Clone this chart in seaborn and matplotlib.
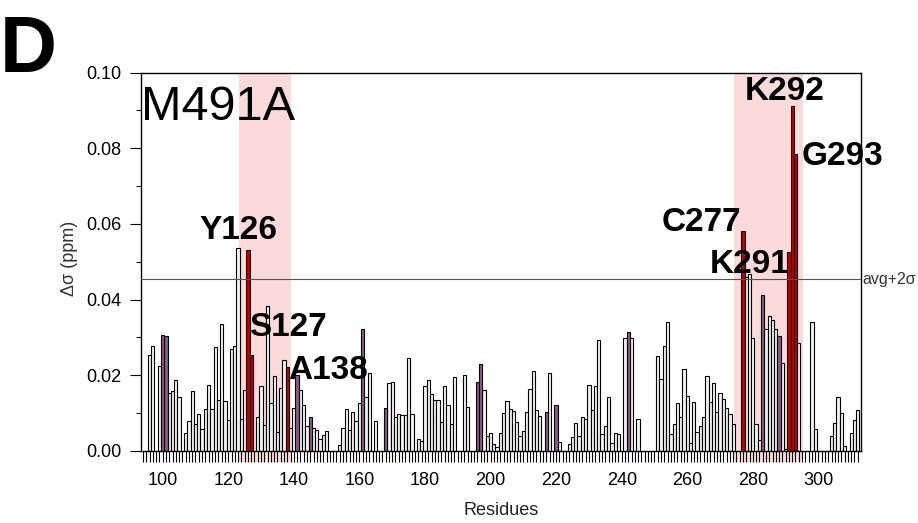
import numpy as np
import pandas as pd
import matplotlib
matplotlib.use("Agg")
import matplotlib.pyplot as plt
import matplotlib.transforms as mtransforms
from matplotlib.ticker import MultipleLocator
import seaborn as sns

nan = np.nan

# ---------------- data ----------------
residues = list(range(96, 313))
delta_sigma = [
    0.0253, 0.0277, nan, 0.0225, 0.0307, 0.0303, 0.0154, 0.0158, 0.0188, 0.0143,   # 96-105
    nan, 0.0046, 0.0079, 0.0158, 0.0070, 0.0096, 0.0057, 0.0111, 0.0175, 0.0110,    # 106-115
    0.0275, 0.0135, 0.0336, 0.0132, 0.0080, 0.0270, 0.0277, 0.0537, 0.0085, 0.0160, # 116-125
    0.0530, 0.0254, nan, 0.0090, 0.0171, 0.0068, 0.0383, 0.0125, 0.0197, 0.0050,    # 126-135
    0.0165, 0.0240, 0.0222, 0.0059, 0.0114, 0.0200, 0.0160, 0.0120, 0.0066, 0.0090, # 136-145
    0.0061, 0.0056, 0.0030, 0.0041, 0.0053, nan, nan, nan, 0.0015, 0.0059,          # 146-155
    0.0110, 0.0056, 0.0103, 0.0078, 0.0125, 0.0323, 0.0141, 0.0206, nan, 0.0079,    # 156-165
    nan, nan, 0.0112, 0.0180, 0.0182, 0.0090, 0.0097, 0.0095, 0.0094, 0.0244,       # 166-175
    0.0098, nan, 0.0031, 0.0026, 0.0171, 0.0188, 0.0151, 0.0135, 0.0134, 0.0075,    # 176-185
    0.0172, 0.0121, 0.0072, 0.0195, nan, nan, 0.0199, 0.0115, nan, nan,             # 186-195
    0.0182, 0.0229, 0.0161, 0.0040, 0.0048, 0.0019, 0.0011, 0.0048, 0.0100, 0.0132, # 196-205
    0.0110, 0.0106, 0.0075, 0.0039, 0.0053, 0.0103, 0.0162, 0.0211, 0.0107, 0.0092, # 206-215
    nan, 0.0103, 0.0206, nan, 0.0121, 0.0022, nan, nan, 0.0019, 0.0037,             # 216-225
    0.0074, 0.0040, 0.0088, 0.0085, 0.0175, 0.0107, 0.0171, 0.0293, 0.0043, 0.0066, # 226-235
    0.0143, 0.0020, 0.0046, 0.0043, nan, 0.0297, 0.0314, 0.0297, nan, 0.0084,       # 236-245
    nan, nan, nan, nan, nan, 0.0250, 0.0191, 0.0277, 0.0341, 0.0043,                # 246-255
    0.0070, 0.0125, 0.0090, 0.0217, 0.0144, 0.0020, 0.0129, 0.0050, 0.0065, 0.0088, # 256-265
    0.0198, 0.0130, 0.0178, 0.0103, 0.0153, 0.0138, 0.0112, 0.0096, 0.0072, nan,    # 266-275
    nan, 0.0581, 0.0460, 0.0467, 0.0299, 0.0072, 0.0028, 0.0411, 0.0323, 0.0356,    # 276-285
    0.0345, 0.0323, 0.0303, 0.0231, 0.0005, 0.0527, 0.0913, 0.0784, 0.0284, nan,    # 286-295
    nan, nan, 0.0340, 0.0057, nan, nan, nan, nan, 0.0040, 0.0073,                   # 296-305
    0.0141, 0.0099, 0.0012, nan, 0.0046, 0.0081, 0.0107,                            # 306-312
]
red_residues = [126, 127, 138, 277, 291, 292, 293]
purple_residues = [100, 101, 141, 145, 161, 168, 196, 197, 217, 220, 242, 283, 288]
highlight_spans = [(123.3, 139.0), (274.1, 295.4)]
avg_2sigma = 0.0453
label_names = ["Y126", "S127", "A138", "C277", "K291", "K292", "G293"]
x_ticks = [100, 120, 140, 160, 180, 200, 220, 240, 260, 280, 300]
y_ticks = [0.00, 0.02, 0.04, 0.06, 0.08, 0.10]

# label placement (layout, data coordinates)
label_pos = {"Y126": (123.0, 0.0583), "S127": (138.2, 0.0327), "A138": (150.3, 0.0213),
             "C277": (264.4, 0.0604), "K291": (278.9, 0.0493), "K292": (289.8, 0.0949),
             "G293": (307.4, 0.0779)}

def group_of(r):
    if r in red_residues:
        return "red"
    if r in purple_residues:
        return "purple"
    return "plain"

df = pd.DataFrame({"residue": residues, "dsigma": delta_sigma})
df["group"] = df["residue"].map(group_of)
df = df.dropna(subset=["dsigma"])

palette = {"plain": "#f2f2f2", "purple": "#8b5a83", "red": "#c00000"}

# ---------------- figure ----------------
plt.rcParams["font.family"] = ["Liberation Sans", "DejaVu Sans"]
fig = plt.figure(figsize=(9.18, 5.23), dpi=100)
ax = fig.add_axes([0.1533, 0.1382, 0.7843, 0.7228])

for lo, hi in highlight_spans:
    ax.axvspan(lo, hi, ymin=-0.029, ymax=1.0, color="#fadada", lw=0, zorder=0, clip_on=False)

sns.barplot(data=df, x="residue", y="dsigma", hue="group", palette=palette,
            native_scale=True, width=1.0, dodge=False, saturation=1,
            edgecolor="black", linewidth=0.8, errorbar=None, legend=False,
            ax=ax, zorder=2)

ax.axhline(avg_2sigma, color="#555555", lw=0.8, zorder=3)
trans = mtransforms.blended_transform_factory(ax.transAxes, ax.transData)
ax.text(1.002, avg_2sigma, "avg+2σ", transform=trans, ha="left", va="center",
        fontsize=11.5, color="#333333")

for name in label_names:
    lx, ly = label_pos[name]
    ax.text(lx, ly, name, ha="center", va="center", fontsize=24,
            fontweight="bold", color="black", zorder=4)

ax.text(0.0, 0.875, "M491A", transform=ax.transAxes, ha="left", va="baseline",
        fontsize=35, color="black")
fig.text(0.0, 0.862, "D", ha="left", va="baseline", fontsize=57, fontweight="bold")

ax.set_xlim(93.3, 312.9)
ax.set_ylim(0, 0.10)
ax.set_xticks(x_ticks)
ax.set_xticklabels([str(t) for t in x_ticks])
ax.xaxis.set_minor_locator(MultipleLocator(1))
ax.set_yticks(y_ticks)
ax.set_yticklabels([f"{t:.2f}" for t in y_ticks])
ax.yaxis.set_minor_locator(MultipleLocator(0.01))

ax.tick_params(axis="x", which="both", direction="out", length=8, width=0.8,
               labelsize=13, pad=7)
ax.tick_params(axis="y", which="major", direction="out", length=8, width=0.8,
               labelsize=13, pad=6)
ax.tick_params(axis="y", which="minor", direction="out", length=3.6, width=0.8)
for s in ax.spines.values():
    s.set_linewidth(1.0)
    s.set_color("black")

ax.set_xlabel("Residues", fontsize=13, color="#222222")
ax.xaxis.set_label_coords(0.5, -0.135)
ax.set_ylabel("Δσ (ppm)", fontsize=13, color="#333333")
ax.yaxis.set_label_coords(-0.087, 0.51)

fig.savefig("out.png", dpi=100)
